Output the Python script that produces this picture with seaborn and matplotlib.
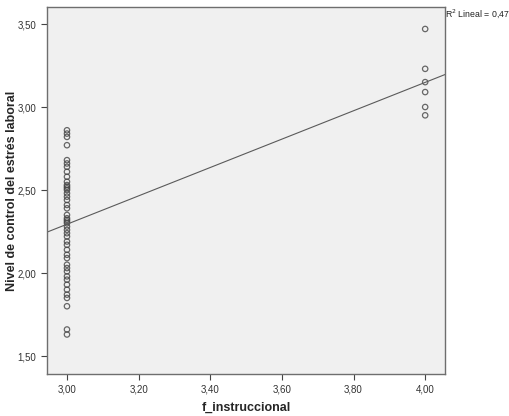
import matplotlib
matplotlib.use("Agg")
import matplotlib.pyplot as plt
import matplotlib.ticker as mticker
import seaborn as sns
import pandas as pd

# f_instruccional = 3,00 group
y_at_3 = [2.86, 2.84, 2.82, 2.77, 2.68, 2.66, 2.64, 2.61, 2.58, 2.55, 2.53, 2.52,
          2.51, 2.50, 2.48, 2.46, 2.44, 2.41, 2.39, 2.35, 2.33, 2.32, 2.31, 2.30,
          2.28, 2.26, 2.24, 2.22, 2.19, 2.17, 2.14, 2.11, 2.09, 2.05, 2.03, 2.01,
          1.98, 1.96, 1.93, 1.90, 1.87, 1.85, 1.80, 1.66, 1.63]
# f_instruccional = 4,00 group
y_at_4 = [3.47, 3.23, 3.15, 3.09, 3.00, 2.95]

x_label = "f_instruccional"
y_label = "Nivel de control del estrés laboral"
r2_text = "R$^2$ Lineal = 0,47"
x_ticks = [3.0, 3.2, 3.4, 3.6, 3.8, 4.0]
y_ticks = [1.5, 2.0, 2.5, 3.0, 3.5]

df = pd.DataFrame({
    x_label: [3.0] * len(y_at_3) + [4.0] * len(y_at_4),
    y_label: y_at_3 + y_at_4,
})

sns.set_style("white")
plt.rcParams["font.family"] = ["Liberation Sans", "DejaVu Sans"]

fig = plt.figure(figsize=(5.1, 4.16), dpi=100)
ax = fig.add_axes([0.092, 0.101, 0.781, 0.882])
ax.set_facecolor("#f0f0f0")
ax.set_xlim(2.944, 4.056)
ax.set_ylim(1.392, 3.602)

sns.regplot(data=df, x=x_label, y=y_label, ax=ax, ci=None, truncate=False,
            scatter_kws=dict(s=15, facecolors="none", edgecolors="#444444", linewidths=0.9),
            line_kws=dict(color="#5a5a5a", linewidth=0.8))

ax.set_xticks(x_ticks)
ax.set_yticks(y_ticks)
comma = mticker.FuncFormatter(lambda v, p: f"{v:.2f}".replace(".", ","))
ax.xaxis.set_major_formatter(comma)
ax.yaxis.set_major_formatter(comma)
ax.tick_params(axis="both", direction="out", length=4, width=0.8, color="#444444",
               labelsize=7, labelcolor="#333333", bottom=True, left=True)

for s in ax.spines.values():
    s.set_color("#6e6e6e")
    s.set_linewidth(1.0)

ax.set_xlabel(x_label, fontsize=9, fontweight="bold")
ax.set_ylabel(y_label, fontsize=9, fontweight="bold")
ax.xaxis.set_label_coords(0.5, -0.075)
ax.yaxis.set_label_coords(-0.072, 0.5)

fig.text(0.873, 0.982, r2_text, fontsize=6.3, ha="left", va="top", color="#222222")

fig.savefig("out.png", dpi=100)
